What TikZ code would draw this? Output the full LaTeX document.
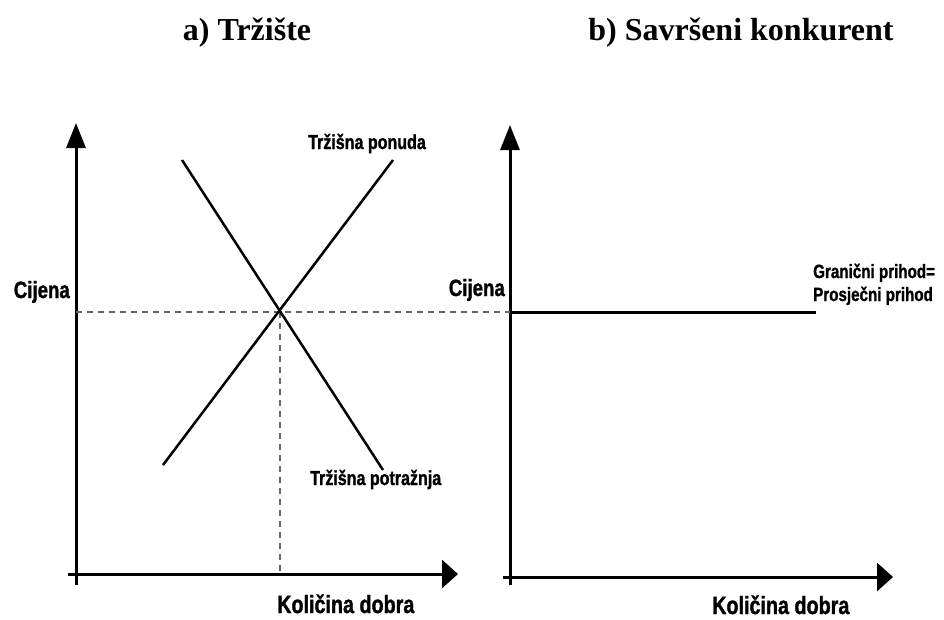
\documentclass[tikz,border=0pt]{standalone}
\usepackage{fontspec}
\usetikzlibrary{arrows.meta}
\newfontfamily\labfont[FakeStretch=0.79,FakeBold=1.2]{Liberation Sans}
\newfontfamily\ttlfont{Liberation Serif}
\begin{document}
\begin{tikzpicture}[x=1pt,y=-1pt,
  axis/.style={line width=3pt},
  vtip/.style={-{Triangle[length=25pt,width=19pt]}},
  htip/.style={-{Triangle[length=16pt,width=28pt]}},
  curve/.style={line width=2.5pt},
  guide/.style={gray!80!black,line width=1.3pt,dash pattern=on 6pt off 5pt},
  lab/.style={inner sep=0pt,font=\labfont\bfseries\fontsize{20.3}{22}\selectfont},
  biglab/.style={inner sep=0pt,font=\labfont\bfseries\fontsize{23.6}{26}\selectfont},
  axlab/.style={inner sep=0pt,font=\labfont\bfseries\fontsize{25}{28}\selectfont},
  rlab/.style={inner sep=0pt,font=\labfont\bfseries\fontsize{19.2}{23}\selectfont},
  title/.style={inner sep=0pt,font=\ttlfont\bfseries\fontsize{32}{36}\selectfont}]
\useasboundingbox (0,0) rectangle (944,619);
% titles
\node[title] (ta) at (247,33) {a) Tržište};
\node[title] (tb) at (741,33) {b) Savršeni konkurent};
% left axes
\coordinate (lvb) at (76,585);
\coordinate (lvt) at (76,123);
\coordinate (lhl) at (68,574);
\coordinate (lhr) at (458,574);
\draw[axis,vtip] (lvb) -- (lvt);
\draw[axis,htip] (lhl) -- (lhr);
% right axes
\coordinate (rvb) at (510,585);
\coordinate (rvt) at (510,125);
\coordinate (rhl) at (503,577);
\coordinate (rhr) at (893,577);
\draw[axis,vtip] (rvb) -- (rvt);
\draw[axis,htip] (rhl) -- (rhr);
% curves
\coordinate (s1) at (163,465);
\coordinate (s2) at (393,160);
\coordinate (d1) at (182,160);
\coordinate (d2) at (383,470);
\coordinate (eq) at (280,312);
\coordinate (gl) at (76,312);
\coordinate (gr) at (510,312);
\coordinate (gq) at (280,574);
\draw[guide] (gl) -- (gr);
\draw[guide] (eq) -- (gq);
\draw[curve] (s1) -- (s2);
\draw[curve] (d1) -- (d2);
% right horizontal line
\coordinate (ar1) at (510,312);
\coordinate (ar2) at (816,312);
\draw[axis] (ar1) -- (ar2);
% labels
\node[biglab,anchor=base east] (cl) at (70,298) {Cijena};
\node[biglab,anchor=base east] (cr) at (505,296) {Cijena};
\node[lab,anchor=base west] (sup) at (308,149) {Tržišna ponuda};
\node[lab,anchor=base west] (dem) at (310,485) {Tržišna potražnja};
\node[axlab,anchor=base west] (ql) at (277,613) {Količina dobra};
\node[axlab,anchor=base west] (qr) at (712,614) {Količina dobra};
\node[rlab,anchor=base west] (mr) at (813,278) {Granični prihod=};
\node[rlab,anchor=base west] (ar) at (813,301) {Prosječni prihod};
\end{tikzpicture}
\end{document}
